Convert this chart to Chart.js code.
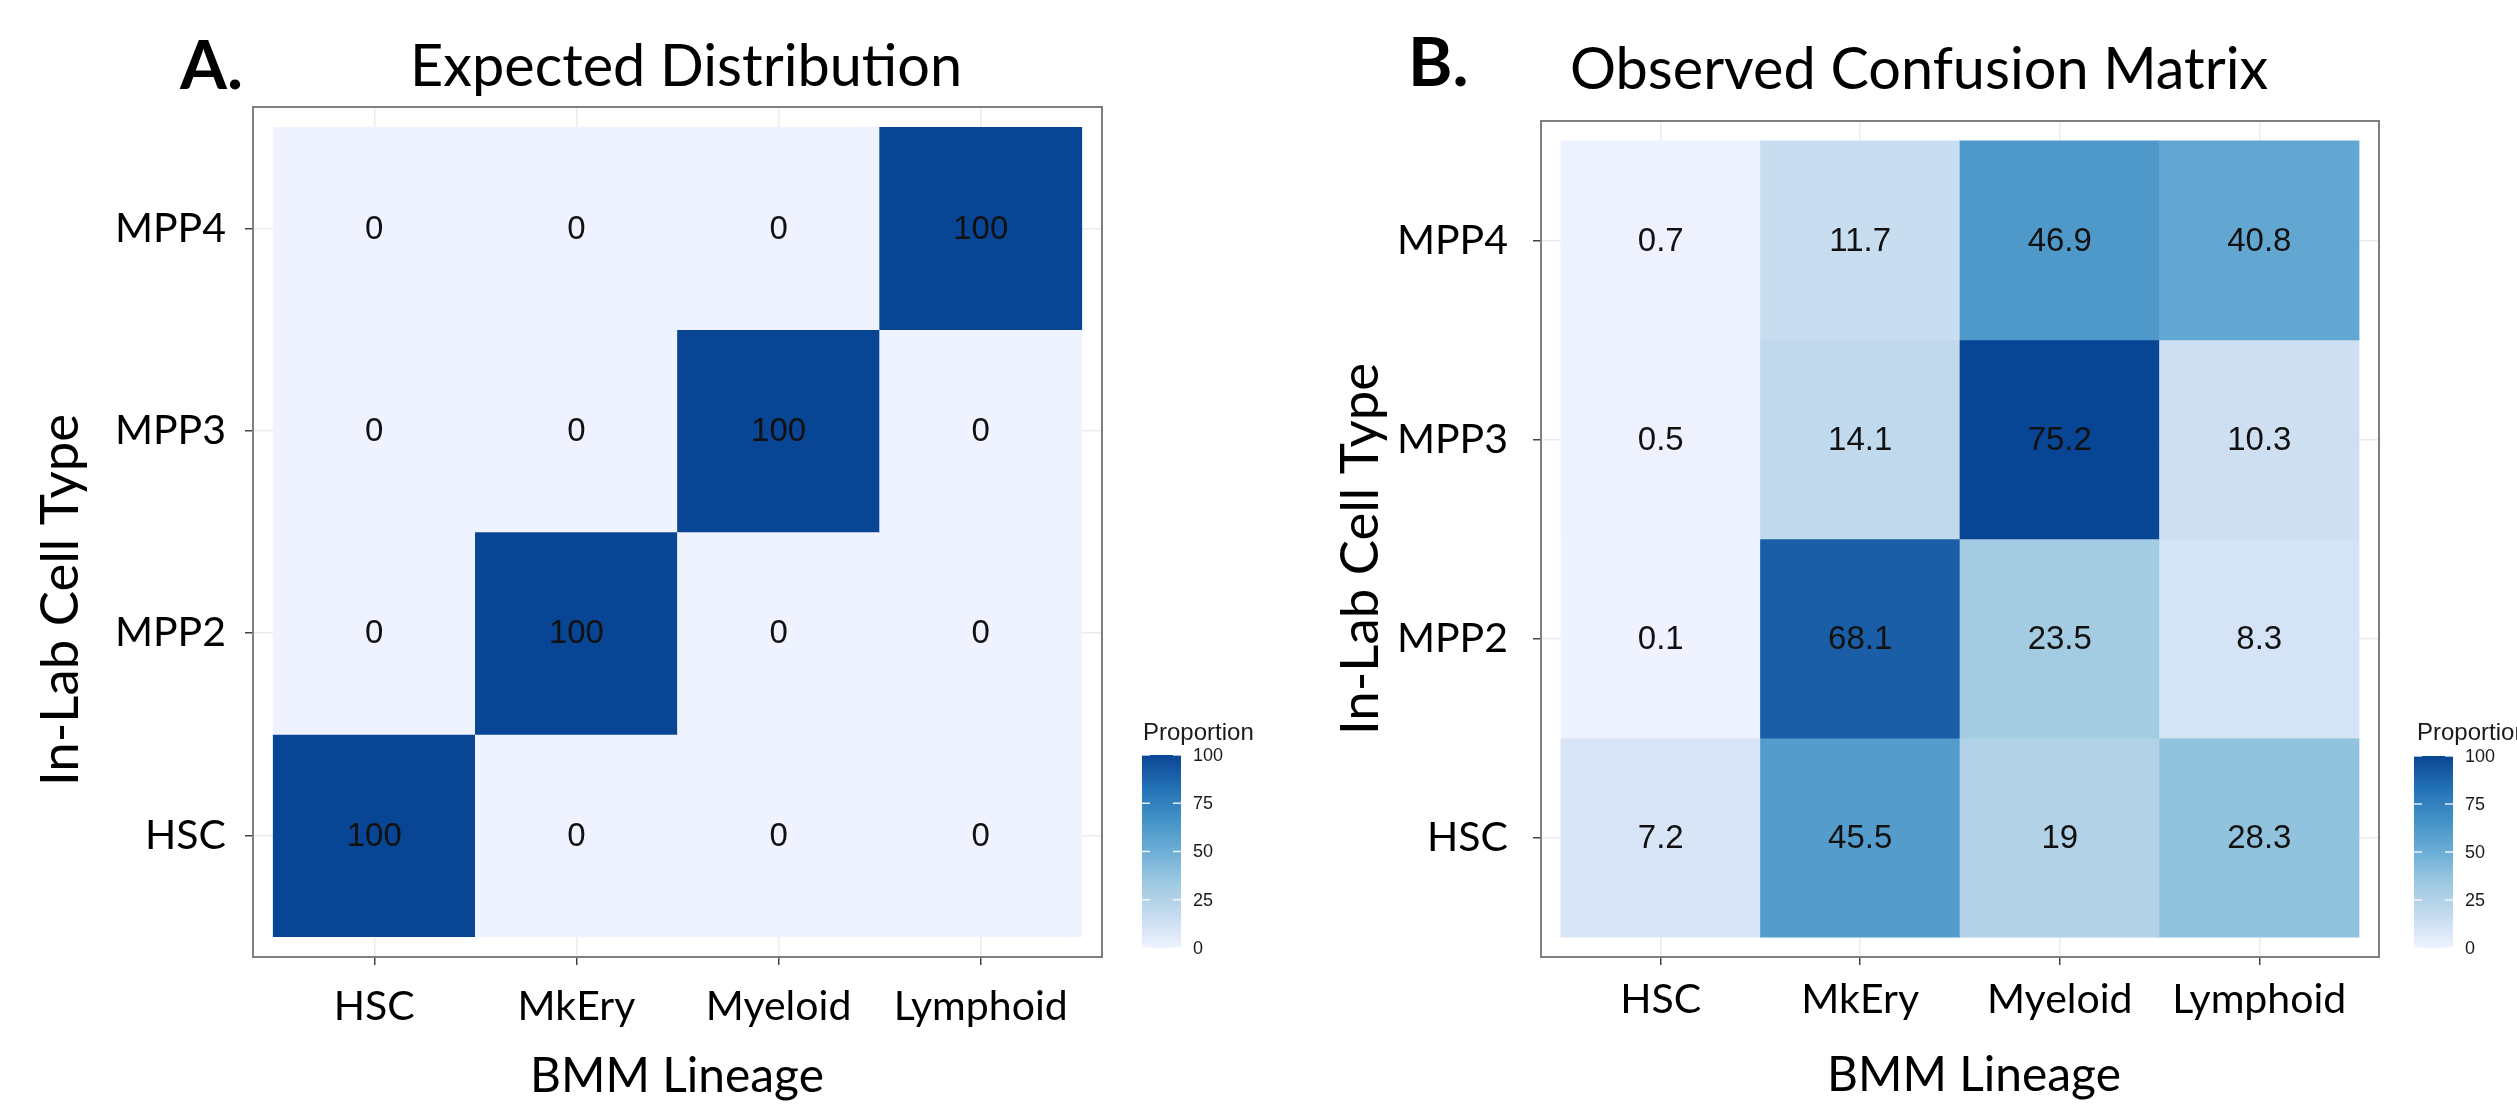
<!DOCTYPE html>
<html>
<head>
<meta charset="utf-8">
<title>Expected vs observed lineage</title>
<script src="https://cdn.jsdelivr.net/npm/chart.js@4.4.1/dist/chart.umd.min.js"></script>
<style>
  html, body { margin: 0; padding: 0; background: #fff; }
  #wrap { position: relative; width: 2517px; height: 1107px; }
  #wrap canvas { position: absolute; left: 0; top: 0; }
</style>
</head>
<body>
<div id="wrap">
  <canvas id="panelA" width="2517" height="1107"></canvas>
  <canvas id="panelB" width="2517" height="1107"></canvas>
</div>
<script>
// categories
const lineages = ["HSC", "MkEry", "Myeloid", "Lymphoid"];   // x axis
const cellTypes = ["HSC", "MPP2", "MPP3", "MPP4"];          // y axis, bottom -> top

// proportions (%), one row per in-lab cell type, columns follow `lineages`
const expectedHSC  = [100, 0, 0, 0];
const expectedMPP2 = [0, 100, 0, 0];
const expectedMPP3 = [0, 0, 100, 0];
const expectedMPP4 = [0, 0, 0, 100];

const observedHSC  = [7.2, 45.5, 19, 28.3];
const observedMPP2 = [0.1, 68.1, 23.5, 8.3];
const observedMPP3 = [0.5, 14.1, 75.2, 10.3];
const observedMPP4 = [0.7, 11.7, 46.9, 40.8];

const legendTicks = [0, 25, 50, 75, 100];

// RColorBrewer "Blues" (7 classes), as used by scale_fill_distiller
const blues = ["#EFF3FF", "#C6DBEF", "#9ECAE1", "#6BAED6", "#4292C6", "#2171B5", "#084594"];

const LABEL_FONT = "Lato, 'Open Sans', sans-serif";   // stands in for Calibri
const CELL_FONT = "'Liberation Sans', Arial, sans-serif";

// ---- colour helpers (Lab interpolation like scales::gradient_n_pal) ----
const WHITE = [0.95047, 1, 1.08883];
const toLin = c => { c /= 255; return c <= 0.04045 ? c / 12.92 : Math.pow((c + 0.055) / 1.055, 2.4); };
const toSrgb = c => {
    const v = c <= 0.0031308 ? 12.92 * c : 1.055 * Math.pow(c, 1 / 2.4) - 0.055;
    return Math.round(Math.max(0, Math.min(1, v)) * 255);
};
function hexToLab(hex) {
    const [r, g, b] = [1, 3, 5].map(i => toLin(parseInt(hex.slice(i, i + 2), 16)));
    const x = (0.4124564 * r + 0.3575761 * g + 0.1804375 * b) / WHITE[0];
    const y = (0.2126729 * r + 0.7151522 * g + 0.0721750 * b) / WHITE[1];
    const z = (0.0193339 * r + 0.1191920 * g + 0.9503041 * b) / WHITE[2];
    const f = t => t > 216 / 24389 ? Math.cbrt(t) : (24389 / 27 * t + 16) / 116;
    return [116 * f(y) - 16, 500 * (f(x) - f(y)), 200 * (f(y) - f(z))];
}
function labToCss([L, a, b]) {
    const fy = (L + 16) / 116, fx = fy + a / 500, fz = fy - b / 200;
    const inv = t => t * t * t > 216 / 24389 ? t * t * t : (116 * t - 16) / (24389 / 27);
    const x = inv(fx) * WHITE[0], y = inv(fy) * WHITE[1], z = inv(fz) * WHITE[2];
    const r = 3.2404542 * x - 1.5371385 * y - 0.4985314 * z;
    const g = -0.9692660 * x + 1.8760108 * y + 0.0415560 * z;
    const bl = 0.0556434 * x - 0.2040259 * y + 1.0572252 * z;
    return `rgb(${toSrgb(r)}, ${toSrgb(g)}, ${toSrgb(bl)})`;
}
const bluesLab = blues.map(hexToLab);
function paletteAt(t) {
    t = Math.max(0, Math.min(1, t));
    const pos = t * (bluesLab.length - 1);
    const i = Math.min(Math.floor(pos), bluesLab.length - 2);
    const f = pos - i;
    return labToCss(bluesLab[i].map((c, k) => c + (bluesLab[i + 1][k] - c) * f));
}

// ---- font sizes fitted to the widths measured on the figure ----
const measureCtx = document.createElement("canvas").getContext("2d");
function fitSize(text, weight, width) {
    measureCtx.font = `${weight} 100px ${LABEL_FONT}`;
    return Math.round(1000 * width / measureCtx.measureText(text).width) / 10;
}
const letterSize = fitSize("A.", 700, 63);
const titleSize = fitSize("Expected Distribution", 400, 552);
const tickSize = fitSize("MPP4", 400, 111);
const axisTitleSize = fitSize("BMM Lineage", 400, 294);
const yTitleSize = fitSize("In-Lab Cell Type", 400, 372);

// one floating bar per cell: x = lineage, y spans the cell type's band
function cellData(rows) {
    const out = [];
    rows.forEach((row, r) => row.forEach((v, c) => out.push({ x: c + 1, y: [r + 0.5, r + 1.5], v: v })));
    return out;
}

// value labels in the middle of each tile
const cellLabels = {
    id: "cellLabels",
    afterDatasetsDraw(chart) {
        const ctx = chart.ctx;
        const meta = chart.getDatasetMeta(0);
        const data = chart.data.datasets[0].data;
        ctx.save();
        ctx.font = `33px ${CELL_FONT}`;
        ctx.fillStyle = "#111";
        ctx.textAlign = "center";
        ctx.textBaseline = "middle";
        meta.data.forEach((bar, i) => {
            const c = bar.getCenterPoint();
            ctx.fillText(String(data[i].v), c.x, c.y + 1);
        });
        ctx.restore();
    }
};

// panel border, panel letter, titles and colour-bar legend
const panelDecor = {
    id: "panelDecor",
    afterDraw(chart, args, p) {
        const ctx = chart.ctx;
        const a = chart.chartArea;
        ctx.save();
        ctx.strokeStyle = "#7f7f7f";
        ctx.lineWidth = 2;
        ctx.strokeRect(a.left, a.top, a.right - a.left, a.bottom - a.top);

        ctx.fillStyle = "#000";
        ctx.textBaseline = "alphabetic";
        ctx.textAlign = "left";
        ctx.font = `700 ${letterSize}px ${LABEL_FONT}`;
        ctx.fillText(p.letter.text, p.letter.x, p.letter.y);
        ctx.font = `400 ${titleSize}px ${LABEL_FONT}`;
        ctx.fillText(p.title.text, p.title.x, p.title.y);

        ctx.textAlign = "center";
        ctx.font = `400 ${axisTitleSize}px ${LABEL_FONT}`;
        ctx.fillText(p.xTitle.text, p.xTitle.x, p.xTitle.y);
        ctx.save();
        ctx.font = `400 ${yTitleSize}px ${LABEL_FONT}`;
        ctx.translate(p.yTitle.x, p.yTitle.y);
        ctx.rotate(-Math.PI / 2);
        ctx.fillText(p.yTitle.text, 0, 0);
        ctx.restore();

        // legend
        const lg = p.legend;
        ctx.textAlign = "left";
        ctx.fillStyle = "#1a1a1a";
        ctx.font = `24px ${CELL_FONT}`;
        ctx.fillText("Proportion", lg.titleX, lg.titleY);
        const grad = ctx.createLinearGradient(0, lg.bottom, 0, lg.top);
        for (let i = 0; i <= 24; i++) grad.addColorStop(i / 24, paletteAt(i / 24));
        ctx.fillStyle = grad;
        ctx.fillRect(lg.x, lg.top, lg.w, lg.bottom - lg.top);
        const lo = legendTicks[0], hi = legendTicks[legendTicks.length - 1];
        ctx.font = `18px ${CELL_FONT}`;
        ctx.textBaseline = "middle";
        legendTicks.forEach(t => {
            const y = lg.bottom - (t - lo) / (hi - lo) * (lg.bottom - lg.top);
            ctx.strokeStyle = "rgba(255,255,255,0.85)";
            ctx.lineWidth = 1.5;
            ctx.beginPath();
            ctx.moveTo(lg.x, y); ctx.lineTo(lg.x + 8, y);
            ctx.moveTo(lg.x + lg.w - 8, y); ctx.lineTo(lg.x + lg.w, y);
            ctx.stroke();
            ctx.fillStyle = "#1a1a1a";
            ctx.fillText(String(t), lg.labelX, y + 1);
        });
        ctx.restore();
    }
};

function heatmap(canvasId, rows, p) {
    const cells = cellData(rows);
    const vals = rows.flat();
    const lo = Math.min(...vals), hi = Math.max(...vals);   // ggplot fill limits = data range
    const gridOpts = { color: "#ebebeb", lineWidth: 1.5, tickColor: "#444", tickLength: 8, tickWidth: 1.5, offset: false };
    const tickFont = { family: LABEL_FONT, size: tickSize };

    return new Chart(document.getElementById(canvasId), {
        type: "bar",
        data: {
            datasets: [{
                data: cells,
                backgroundColor: cells.map(d => paletteAt((d.v - lo) / (hi - lo))),
                borderWidth: 0,
                barPercentage: 1,
                categoryPercentage: 1
            }]
        },
        options: {
            responsive: false,
            animation: false,
            events: [],
            layout: { padding: { left: p.padLeft, top: p.area.top, right: 2517 - p.area.right, bottom: 0 } },
            scales: {
                x: {
                    type: "linear", min: 0.4, max: 4.6, offset: false,
                    afterBuildTicks: ax => { ax.ticks = lineages.map((_, i) => ({ value: i + 1 })); },
                    afterFit: ax => { ax.height = 1107 - p.area.bottom; },
                    ticks: { callback: v => lineages[v - 1], font: tickFont, color: "#000", padding: p.xTickPad, maxRotation: 0, autoSkip: false },
                    grid: gridOpts,
                    border: { display: false }
                },
                y: {
                    type: "linear", min: 0.4, max: 4.6, offset: false,
                    afterBuildTicks: ax => { ax.ticks = cellTypes.map((_, i) => ({ value: i + 1 })); },
                    afterFit: ax => { ax.width = p.area.left - p.padLeft; },
                    ticks: { callback: v => cellTypes[v - 1], font: tickFont, color: "#000", padding: p.yTickPad, autoSkip: false },
                    grid: gridOpts,
                    border: { display: false }
                }
            },
            plugins: {
                legend: { display: false },
                tooltip: { enabled: false },
                panelDecor: p
            }
        },
        plugins: [cellLabels, panelDecor]
    });
}

heatmap("panelA", [expectedHSC, expectedMPP2, expectedMPP3, expectedMPP4], {
    padLeft: 0,
    area: { left: 253, top: 107, right: 1102, bottom: 957 },
    yTickPad: 19, xTickPad: 17,
    letter: { text: "A.", x: 180, y: 89 },
    title: { text: "Expected Distribution", x: 410, y: 86 },
    xTitle: { text: "BMM Lineage", x: 677, y: 1092 },
    yTitle: { text: "In-Lab Cell Type", x: 78, y: 600 },
    legend: { x: 1142, top: 755, bottom: 948, w: 39, titleX: 1143, titleY: 740, labelX: 1193 }
});

heatmap("panelB", [observedHSC, observedMPP2, observedMPP3, observedMPP4], {
    padLeft: 1260,
    area: { left: 1541, top: 121, right: 2379, bottom: 957 },
    yTickPad: 25, xTickPad: 10,
    letter: { text: "B.", x: 1408, y: 86 },
    title: { text: "Observed Confusion Matrix", x: 1570, y: 89 },
    xTitle: { text: "BMM Lineage", x: 1974, y: 1091 },
    yTitle: { text: "In-Lab Cell Type", x: 1378, y: 549 },
    legend: { x: 2414, top: 756, bottom: 948, w: 39, titleX: 2417, titleY: 740, labelX: 2465 }
});
</script>
</body>
</html>
